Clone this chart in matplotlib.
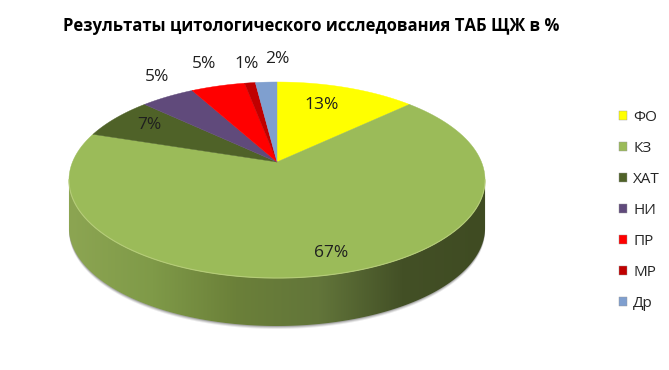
import numpy as np
import matplotlib
matplotlib.use('Agg')
import matplotlib.pyplot as plt
from matplotlib.colors import LinearSegmentedColormap
from matplotlib.patches import Patch, Polygon

title = 'Результаты цитологического исследования ТАБ ЩЖ в %'
labels = ['ФО', 'КЗ', 'ХАТ', 'НИ', 'ПР', 'МР', 'Др']
values = [13, 67, 7, 5, 5, 1, 2]
colors = ['#FFFF00', '#9BBB59', '#4F6228', '#604A7B', '#FF0000', '#C00000', '#7F9FCF']
side_colors = ['#8CA552', '#7F9A48', '#6B8039', '#62753A', '#435026', '#3F4B22']

plt.rcParams['font.family'] = ['Open Sans', 'DejaVu Sans']

# pie centre in pixels and perspective of the tilted disc
cx, cy = 277, 162
k = 0.1837
ry = 94.7
rx = 204.5
depth = 48


def project(theta):
    # theta in radians, clockwise from 12 o'clock
    u, v = np.sin(theta), np.cos(theta)
    d = 1 + k * v
    return cx + rx * u / d, cy - ry * v / d


fig, ax = plt.subplots(figsize=(6.69, 3.70), dpi=100)
ax.set_position([0, 0, 1, 1])

# side of the disc, front half of the rim
t = np.linspace(0, 2 * np.pi, 721)
x, y = project(t)
left, right = np.argmin(x), np.argmax(x)
rim = np.linspace(t[right], t[left], 300)
rx1, ry1 = project(rim)
side = np.column_stack([np.r_[rx1, rx1[::-1]], np.r_[ry1, ry1[::-1] + depth]])

# soft shadow under the rim
for off, a in zip([3, 2, 1], [0.12, 0.2, 0.3]):
    ax.add_patch(Polygon(np.column_stack([np.r_[rx1, rx1[::-1]], np.r_[ry1, ry1[::-1] + depth + off]]),
                         fc='#555555', ec='none', alpha=a, zorder=1))

cmap = LinearSegmentedColormap.from_list('side', side_colors)
im = ax.imshow(np.linspace(0, 1, 256).reshape(1, -1), cmap=cmap, aspect='auto',
               extent=[x.min(), x.max(), 340, 100], zorder=2)
im.set_clip_path(Polygon(side, transform=ax.transData))

# top of the disc
edges = np.cumsum([0] + values) / sum(values) * 2 * np.pi
for a, b, c in zip(edges[:-1], edges[1:], colors):
    tt = np.linspace(a, b, 120)
    px, py = project(tt)
    ax.fill(np.r_[cx, px], np.r_[cy, py], fc=c, ec=c, lw=0.3, zorder=3)

# light line on the front edge
ax.plot(rx1, ry1, color='#B5CC78', lw=0.8, zorder=4)

# percent labels
label_pos = [(322, 105), (331, 253), (149, 125), (157, 77), (204, 64), (247, 64), (277, 59)]
for (lx, ly), v in zip(label_pos, values):
    ax.text(lx, ly, f'{v}%', ha='center', va='center', fontsize=12.5, color='#1f1f1f', zorder=5)

ax.text(311, 26, title, ha='center', va='center', fontsize=12, fontweight='bold', color='black')

handles = [Patch(fc=c, ec='#999999', lw=0.3, label=l) for c, l in zip(colors, labels)]
leg = ax.legend(handles=handles, loc='upper left', bbox_to_anchor=(619 / 669, 1 - 110 / 370),
                frameon=False, fontsize=11, labelspacing=1.05, handlelength=0.52, handleheight=0.52,
                handletextpad=0.4, borderpad=0, borderaxespad=0, labelcolor='#262626')

ax.set_xlim(0, 669)
ax.set_ylim(370, 0)
ax.axis('off')

plt.savefig('out.png', dpi=100)
